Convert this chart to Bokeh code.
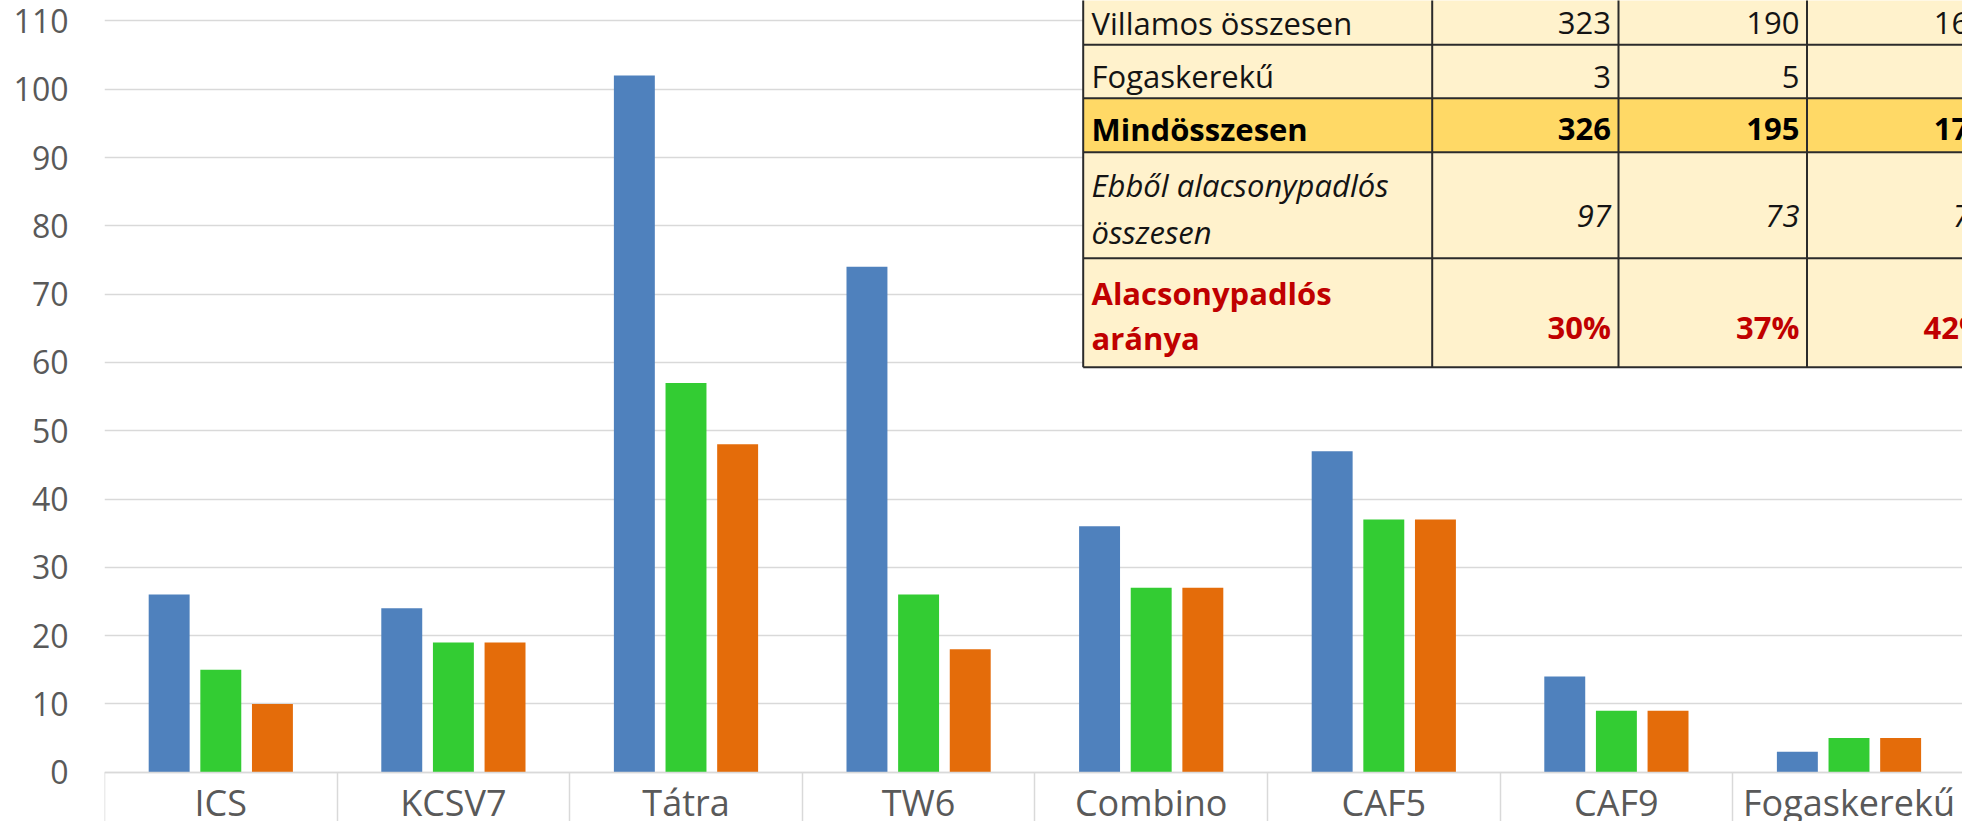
from bokeh.plotting import figure
from bokeh.models import Range1d, FixedTicker, ColumnDataSource
from bokeh.transform import dodge
from bokeh.core.properties import value
from bokeh.embed import file_html
from bokeh.resources import INLINE

# ---------------- data ----------------
categories = ["ICS", "KCSV7", "Tátra", "TW6", "Combino", "CAF5", "CAF9", "Fogaskerekű"]
series_blue = [26, 24, 102, 74, 36, 47, 14, 3]
series_green = [15, 19, 57, 26, 27, 37, 9, 5]
series_orange = [10, 19, 48, 18, 27, 37, 9, 5]
y_ticks = [0, 10, 20, 30, 40, 50, 60, 70, 80, 90, 100, 110]

table_labels = [["Villamos összesen"], ["Fogaskerekű"], ["Mindösszesen"],
                ["Ebből alacsonypadlós", "összesen"], ["Alacsonypadlós", "aránya"]]
table_col_a = ["323", "3", "326", "97", "30%"]
table_col_b = ["190", "5", "195", "73", "37%"]
table_col_c = ["168", "5", "173", "73", "42%"]

# ---------------- layout ----------------
W, H = 1962, 821
LEFT = 104                # frame left
BASE = 771.7              # baseline (y=0), px from top
PPU = 6.83                # px per y unit
PPC = 232.6               # px per category
X_START = -0.5
X_END = X_START + (W - LEFT) / PPC
Y_TOP = BASE / PPU
Y_BOT = -(H - BASE) / PPU
TXT_SHIFT = 0.30          # text anchor correction, fraction of font size

def dx(px):   # page px -> data x
    return X_START + (px - LEFT) / PPC

def dy(py):   # page px -> data y
    return (BASE - py) / PPU

p = figure(width=W, height=H, x_range=Range1d(X_START, X_END), y_range=Range1d(Y_BOT, Y_TOP),
           output_backend="svg", toolbar_location=None,
           min_border_left=LEFT, min_border_right=0, min_border_top=0, min_border_bottom=0)
p.outline_line_color = None
p.background_fill_color = "white"
p.border_fill_color = "white"

p.xgrid.visible = False
p.ygrid.ticker = FixedTicker(ticks=y_ticks)
p.ygrid.grid_line_color = "#D9D9D9"
p.ygrid.grid_line_width = 1.3

yax = p.yaxis[0]
yax.ticker = FixedTicker(ticks=y_ticks)
yax.axis_line_color = None
yax.major_tick_line_color = None
yax.minor_tick_line_color = None
yax.major_tick_out = 0
yax.major_tick_in = 0
yax.major_label_standoff = 36
yax.major_label_text_font = "Open Sans"
yax.major_label_text_font_size = "32px"
yax.major_label_text_color = "#595959"

# category axis: line at y=0 and category separators (axis sits at y = 0)
xax = p.xaxis[0]
xax.fixed_location = 0
xax.ticker = FixedTicker(ticks=list(range(len(categories))),
                         minor_ticks=[i - 0.5 for i in range(len(categories) + 1)])
xax.major_label_text_color = None
xax.major_tick_line_color = None
xax.major_tick_out = 0
xax.major_tick_in = 0
xax.minor_tick_line_color = "#D9D9D9"
xax.minor_tick_line_width = 1.5
xax.minor_tick_out = 60
xax.minor_tick_in = 0
xax.axis_line_color = "#D9D9D9"
xax.axis_line_width = 1.5

CAT_FS = 36
src = ColumnDataSource(dict(x=list(range(len(categories))), cat=categories, blue=series_blue,
                            green=series_green, orange=series_orange,
                            label_y=[dy(813.0 - TXT_SHIFT * CAT_FS)] * len(categories)))
BW = 0.176
OFF = 0.222
p.vbar(x=dodge("x", -OFF, range=p.x_range), top="blue", width=BW, bottom=0, source=src,
       fill_color="#4F81BD", line_color=None)
p.vbar(x=dodge("x", 0, range=p.x_range), top="green", width=BW, bottom=0, source=src,
       fill_color="#33CC33", line_color=None)
p.vbar(x=dodge("x", OFF, range=p.x_range), top="orange", width=BW, bottom=0, source=src,
       fill_color="#E46C0A", line_color=None)

# category labels under the axis
p.text(x="x", y="label_y", text="cat", source=src,
       text_font=value("Open Sans"), text_font_size=value(f"{CAT_FS}px"), text_color="#595959",
       text_align="center", text_baseline="alphabetic")

# ---------------- pasted table (top right) ----------------
tx = [1082.7, 1431.7, 1618.0, 1806.5, 1994.0]
ty = [-10.0, 44.3, 97.7, 151.7, 257.7, 366.7]
row_fill = ["#FFF2CC", "#FFF2CC", "#FFD966", "#FFF2CC", "#FFF2CC"]
p.quad(left=[dx(tx[0])] * 5, right=[dx(tx[-1])] * 5,
       top=[dy(ty[i]) for i in range(5)], bottom=[dy(ty[i + 1]) for i in range(5)],
       fill_color=row_fill, line_color=None)
p.segment(x0=[dx(tx[0])] * len(ty), x1=[dx(tx[-1])] * len(ty),
          y0=[dy(v) for v in ty], y1=[dy(v) for v in ty], line_color="#2B2B2B", line_width=2)
p.segment(x0=[dx(v) for v in tx], x1=[dx(v) for v in tx],
          y0=[dy(ty[0])] * len(tx), y1=[dy(ty[-1])] * len(tx), line_color="#2B2B2B", line_width=2)

label_base = [[31.5], [84.5], [137.5], [194.0, 241.0], [302.0, 347.0]]
num_base = [32.0, 86.0, 137.5, 225.0, 336.0]
styles = ["normal", "normal", "bold", "italic", "bold"]
colors = ["#141414", "#141414", "#000000", "#141414", "#C00000"]
TFS = 31
sh = TXT_SHIFT * TFS

for r in range(5):
    for k, line in enumerate(table_labels[r]):
        p.text(x=[dx(1091)], y=[dy(label_base[r][k] - sh)], text=[line],
               text_font=value("Open Sans"), text_font_size=value(f"{TFS}px"),
               text_font_style=styles[r], text_color=colors[r],
               text_align="left", text_baseline="alphabetic")
    for c, col in enumerate([table_col_a, table_col_b, table_col_c]):
        p.text(x=[dx(tx[c + 2] - 7.5)], y=[dy(num_base[r] - sh)], text=[col[r]],
               text_font=value("Open Sans"), text_font_size=value(f"{TFS}px"),
               text_font_style=styles[r], text_color=colors[r],
               text_align="right", text_baseline="alphabetic")

open("out.html", "w").write(file_html(p, INLINE))
